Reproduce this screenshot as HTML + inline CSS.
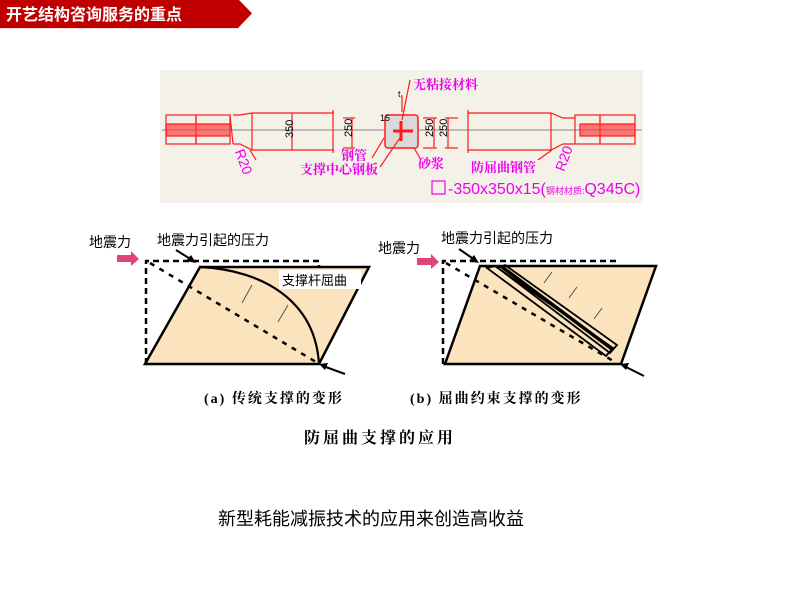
<!DOCTYPE html>
<html><head><meta charset="utf-8"><style>
html,body{margin:0;padding:0;background:#fff;width:786px;height:589px;overflow:hidden;font-family:"Liberation Sans","Noto Sans CJK SC",sans-serif}
svg{position:absolute;left:0;top:0}
</style></head><body>
<svg width="786" height="589" viewBox="0 0 786 589" xmlns="http://www.w3.org/2000/svg" font-family="Liberation Sans, Noto Sans CJK SC, sans-serif">
<!-- header -->
<polygon points="0,0 239,0 252,20 238,42 0,42" fill="#c00000" transform="scale(1,0.67)"/>
<text x="6" y="20" fill="#fff" font-size="16" font-weight="bold">开艺结构咨询服务的重点</text>

<!-- top drawing -->
<rect x="160" y="70" width="483" height="133" fill="#f3f1e8"/>
<line x1="162" y1="130" x2="642" y2="130" stroke="#bbb" stroke-width="2"/>
<g stroke="#ff1a1a" stroke-width="1.2" fill="none">
<rect x="166" y="115" width="30" height="29"/><rect x="196" y="115" width="34" height="29"/>
<line x1="230" y1="115" x2="233" y2="144"/>
<rect x="166" y="124" width="64" height="12" fill="#ff4040" fill-opacity="0.7"/>
<path d="M233,115 L240,115 L252,113 L334,113 M233,144 L240,144 L252,150 L334,150"/>
<line x1="252" y1="113" x2="252" y2="150"/><line x1="292" y1="113" x2="292" y2="150"/>
<line x1="333" y1="110" x2="333" y2="153"/>
<line x1="343" y1="118" x2="355" y2="118"/><line x1="343" y1="148" x2="355" y2="148"/>
<line x1="352" y1="118" x2="352" y2="148"/>
<rect x="385" y="115" width="33" height="33" rx="3" fill="#d9d9d9" stroke-width="1.5"/>
<path d="M393,131 H413 M401,121 V141" stroke-width="3"/>
<line x1="423" y1="118" x2="437" y2="118"/><line x1="423" y1="148" x2="437" y2="148"/>
<line x1="445" y1="118" x2="458" y2="118"/><line x1="445" y1="148" x2="458" y2="148"/>
<line x1="434" y1="118" x2="434" y2="148"/><line x1="448" y1="118" x2="448" y2="148"/>
<line x1="468" y1="110" x2="468" y2="153"/>
<path d="M468,113 L551,113 L563,118 L575,118 M468,150 L551,150 L563,144 L575,144"/>
<line x1="551" y1="113" x2="551" y2="150"/>
<rect x="575" y="115" width="25" height="29"/><rect x="600" y="115" width="35" height="29"/>
<rect x="580" y="124" width="55" height="12" fill="#ff4040" fill-opacity="0.7"/>
<line x1="402" y1="95" x2="402" y2="112"/><line x1="410" y1="80" x2="402" y2="120"/>
<line x1="384" y1="138" x2="372" y2="158"/><line x1="402" y1="135" x2="380" y2="167"/>
<line x1="414" y1="148" x2="420" y2="158"/><line x1="538" y1="160" x2="552" y2="150"/>
<line x1="250" y1="150" x2="256" y2="160"/>
</g>
<g fill="#000" font-size="11">
<text x="279" y="138" transform="rotate(-90 286 131)">350</text>
<text x="341" y="136" transform="rotate(-90 347 131)">250</text>
<text x="422" y="136" transform="rotate(-90 428 131)">250</text>
<text x="436" y="136" transform="rotate(-90 442 131)">250</text>
<text x="380" y="121" font-size="9">15</text>
<text x="398" y="97" font-size="9">t</text>
</g>
<g fill="#ee00ee" font-size="13" font-family="Liberation Serif, Noto Serif CJK SC, serif" font-weight="bold">
<text x="413" y="89">无粘接材料</text>
<text x="341" y="160">钢管</text>
<text x="300" y="174">支撑中心钢板</text>
<text x="418" y="168">砂浆</text>
<text x="471" y="172">防屈曲钢管</text>
<text x="230" y="162" font-family="Liberation Sans" font-weight="normal" font-size="14" transform="rotate(70 240 160)">R20</text>
<text x="550" y="168" font-family="Liberation Sans" font-weight="normal" font-size="14" transform="rotate(-70 560 160)">R20</text>
<rect x="432" y="181" width="13" height="13" fill="none" stroke="#ee00ee" stroke-width="1.2"/>
<text x="448" y="194" font-family="Liberation Sans" font-weight="normal" font-size="16">-350x350x15(<tspan font-size="9" font-family="Noto Sans CJK SC">钢材材质:</tspan>Q345C)</text>
</g>

<!-- diagram a -->
<polygon points="200,267 369,267 319,364 145,364" fill="#fbe3bd" stroke="#000" stroke-width="2.5"/>
<path d="M146,364 V261 H319 V267" fill="none" stroke="#000" stroke-width="2.5" stroke-dasharray="6,4"/>
<line x1="150" y1="263" x2="316" y2="362" stroke="#000" stroke-width="2.5" stroke-dasharray="5,6"/>
<path d="M200,267 C262,270 315,300 319,364" fill="none" stroke="#000" stroke-width="2.2"/>
<rect x="279" y="270" width="82" height="19" fill="#fff"/>
<text x="282" y="285" font-size="13">支撑杆屈曲</text>
<g stroke="#555" stroke-width="1"><line x1="242" y1="303" x2="252" y2="285"/><line x1="278" y1="322" x2="288" y2="305"/></g>
<polygon points="117,255 131,255 131,251 139,259 131,266 131,262 117,262" fill="#e0447a"/>
<line x1="176" y1="250" x2="192" y2="260" stroke="#000" stroke-width="2"/>
<polygon points="196,263 186,261 191,255" fill="#000"/>
<line x1="345" y1="374" x2="323" y2="366" stroke="#000" stroke-width="2"/>
<polygon points="319,364 328,363 325,370" fill="#000"/>
<text x="89" y="247" font-size="14">地震力</text>
<text x="157" y="245" font-size="14">地震力引起的压力</text>

<!-- diagram b -->
<polygon points="480,266 656,266 621,364 445,364" fill="#fbe3bd" stroke="#000" stroke-width="2.5"/>
<path d="M443,364 V261 H617" fill="none" stroke="#000" stroke-width="2.5" stroke-dasharray="6,4"/>
<line x1="446" y1="263" x2="615" y2="362" stroke="#000" stroke-width="2.5" stroke-dasharray="5,6"/>
<polygon points="487,268 495,266 613,348 606,356" fill="none" stroke="#000" stroke-width="1.8"/>
<polygon points="498,268 505,265 617,345 610,353" fill="none" stroke="#000" stroke-width="1.8"/>
<line x1="502" y1="267" x2="612" y2="349" stroke="#000" stroke-width="3.5"/>
<g stroke="#555" stroke-width="1"><line x1="552" y1="272" x2="544" y2="283"/><line x1="577" y1="287" x2="569" y2="298"/><line x1="602" y1="308" x2="594" y2="319"/></g>
<polygon points="417,258 431,258 431,254 439,262 431,269 431,265 417,265" fill="#e0447a"/>
<line x1="459" y1="249" x2="475" y2="260" stroke="#000" stroke-width="2"/>
<polygon points="479,263 469,261 474,255" fill="#000"/>
<line x1="644" y1="376" x2="624" y2="366" stroke="#000" stroke-width="2"/>
<polygon points="620,364 629,363 626,370" fill="#000"/>
<text x="378" y="253" font-size="14">地震力</text>
<text x="441" y="243" font-size="14">地震力引起的压力</text>

<g font-size="14" font-weight="bold" font-family="Liberation Serif, Noto Serif CJK SC, serif" letter-spacing="2">
<text x="204" y="403">(a) 传统支撑的变形</text>
<text x="410" y="403">(b) 屈曲约束支撑的变形</text>
</g>
<text x="304" y="443" font-size="16" font-weight="bold" font-family="Liberation Serif, Noto Serif CJK SC, serif" letter-spacing="3">防屈曲支撑的应用</text>
<text x="218" y="525" font-size="18">新型耗能减振技术的应用来创造高收益</text>
</svg>
</body></html>
